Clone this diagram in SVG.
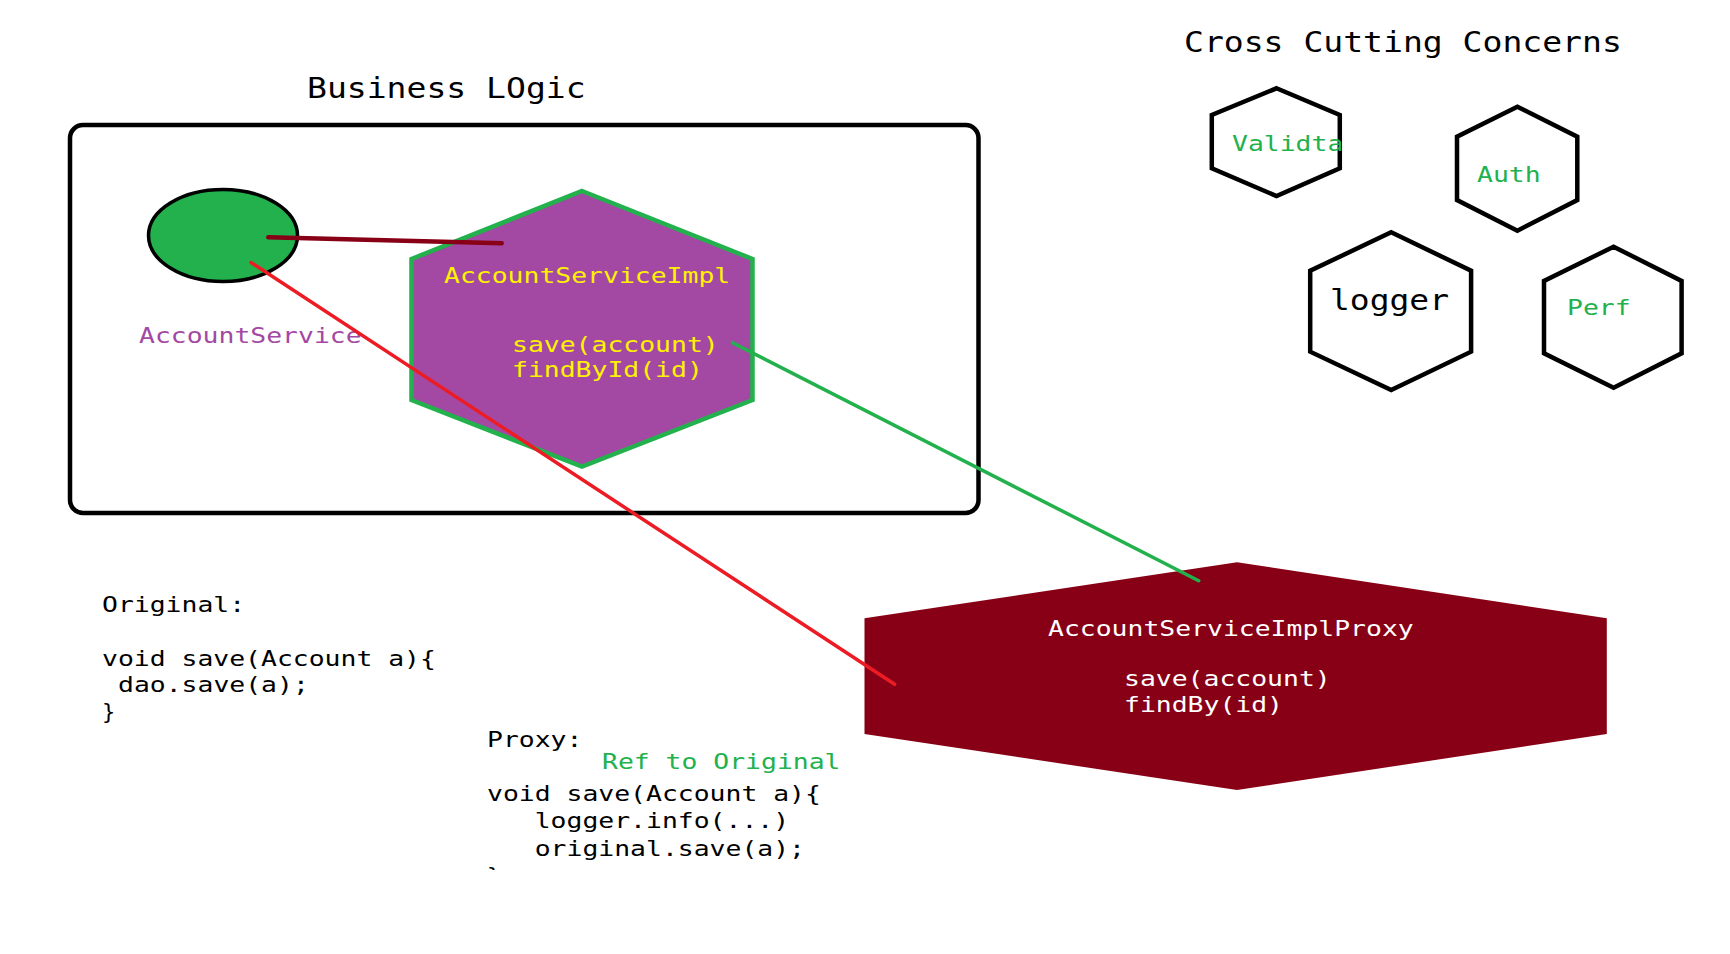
<svg xmlns="http://www.w3.org/2000/svg" width="1730" height="954" viewBox="0 0 1730 954">
<style>
text{font-family:"DejaVu Sans Mono","Liberation Mono",monospace;}
.s{font-size:22px;}
.b{font-size:27.5px;}
.k{fill:#000;}
.g{fill:#22b14c;}
.y{fill:#fff200;}
.p{fill:#a349a4;}
.w{fill:#fff;}
.hex{fill:#fff;stroke:#000;stroke-width:4.5;}
.conn{fill:none;stroke-linecap:round;}
</style>
<defs>
<clipPath id="cut"><rect x="0" y="0" width="1730" height="870"/></clipPath>
</defs>
<rect width="1730" height="954" fill="#fff"/>

<g id="title-business">
<text class="b k" x="307" y="97.7" textLength="278.6" lengthAdjust="spacingAndGlyphs">Business LOgic</text>
</g>
<g id="title-cross">
<text class="b k" x="1184" y="52.3" textLength="437.8" lengthAdjust="spacingAndGlyphs">Cross Cutting Concerns</text>
</g>

<g id="business-box">
<rect x="70" y="125" width="908.5" height="388" rx="13" ry="13" fill="none" stroke="#000" stroke-width="4.5"/>
</g>

<g id="account-service">
<ellipse cx="223" cy="235.5" rx="74.5" ry="46" fill="#22b14c" stroke="#000" stroke-width="3.5"/>
<text class="s p" x="139" y="343.3" textLength="222.6" lengthAdjust="spacingAndGlyphs">AccountService</text>
</g>

<g id="account-service-impl">
<polygon points="582,191 752.5,259 752.5,400 582,466.7 411.5,400 411.5,259" fill="#a349a4" stroke="#22b14c" stroke-width="4.5"/>
<text class="s y" x="444" y="283" textLength="286.2" lengthAdjust="spacingAndGlyphs">AccountServiceImpl</text>
<text class="s y" x="512" y="351.5" textLength="206.7" lengthAdjust="spacingAndGlyphs">save(account)</text>
<text class="s y" x="512" y="377" textLength="190.8" lengthAdjust="spacingAndGlyphs">findById(id)</text>
</g>

<g id="validta">
<polygon class="hex" points="1276.5,88.3 1339.8,115 1339.8,168.3 1276.5,196 1211.8,168.3 1211.8,115"/>
<text class="s g" x="1232" y="150.7" textLength="111.3" lengthAdjust="spacingAndGlyphs">Validta</text>
</g>
<g id="auth">
<polygon class="hex" points="1517.4,106.7 1577.3,136.7 1577.3,200 1517.4,230.7 1457,200 1457,136.7"/>
<text class="s g" x="1477" y="181.7" textLength="63.6" lengthAdjust="spacingAndGlyphs">Auth</text>
</g>
<g id="logger">
<polygon class="hex" points="1391.2,232.3 1471.1,270.7 1471.1,351.7 1391.2,390 1310.2,351.7 1310.2,270.7"/>
<text class="b k" x="1330" y="310" textLength="119" lengthAdjust="spacingAndGlyphs">logger</text>
</g>
<g id="perf">
<polygon class="hex" points="1613.6,246.7 1681.6,281 1681.6,353.3 1613.6,387.7 1544,353.3 1544,281"/>
<text class="s g" x="1567" y="315" textLength="63.6" lengthAdjust="spacingAndGlyphs">Perf</text>
</g>

<g id="proxy">
<polygon points="1237,562.3 1606.8,618.3 1606.8,734 1237,790 864.5,734 864.5,618.3" fill="#880015"/>
<text class="s w" x="1048" y="635.7" textLength="365.7" lengthAdjust="spacingAndGlyphs">AccountServiceImplProxy</text>
<text class="s w" x="1124" y="685.7" textLength="206.7" lengthAdjust="spacingAndGlyphs">save(account)</text>
<text class="s w" x="1124" y="711.7" textLength="159" lengthAdjust="spacingAndGlyphs">findBy(id)</text>
</g>

<g id="original-code">
<text class="s k" x="102" y="611.7" textLength="143.1" lengthAdjust="spacingAndGlyphs">Original:</text>
<text class="s k" x="102" y="666" textLength="333.9" lengthAdjust="spacingAndGlyphs">void save(Account a){</text>
<text class="s k" x="118" y="692.3" textLength="190.8" lengthAdjust="spacingAndGlyphs">dao.save(a);</text>
<text class="s k" x="102" y="719">}</text>
</g>

<g id="proxy-code" clip-path="url(#cut)">
<text class="s k" x="487" y="747.3" textLength="95.4" lengthAdjust="spacingAndGlyphs">Proxy:</text>
<text class="s k" x="487" y="800.7" textLength="333.9" lengthAdjust="spacingAndGlyphs">void save(Account a){</text>
<text class="s k" x="534.7" y="828.3" textLength="254.4" lengthAdjust="spacingAndGlyphs">logger.info(...)</text>
<text class="s k" x="534.7" y="855.7" textLength="270.3" lengthAdjust="spacingAndGlyphs">original.save(a);</text>
<text class="s k" x="487" y="883">}</text>
</g>
<g id="ref-label">
<text class="s g" x="602" y="769.3" textLength="238.5" lengthAdjust="spacingAndGlyphs">Ref to Original</text>
</g>

<g id="connectors" class="conn">
<line x1="268.3" y1="237.3" x2="501.7" y2="243.3" stroke="#880015" stroke-width="4.5"/>
<line x1="251" y1="262.5" x2="894.6" y2="684.3" stroke="#ed1c24" stroke-width="3.5"/>
<line x1="732.5" y1="342.7" x2="1198.7" y2="580.7" stroke="#22b14c" stroke-width="3.5"/>
</g>
</svg>
